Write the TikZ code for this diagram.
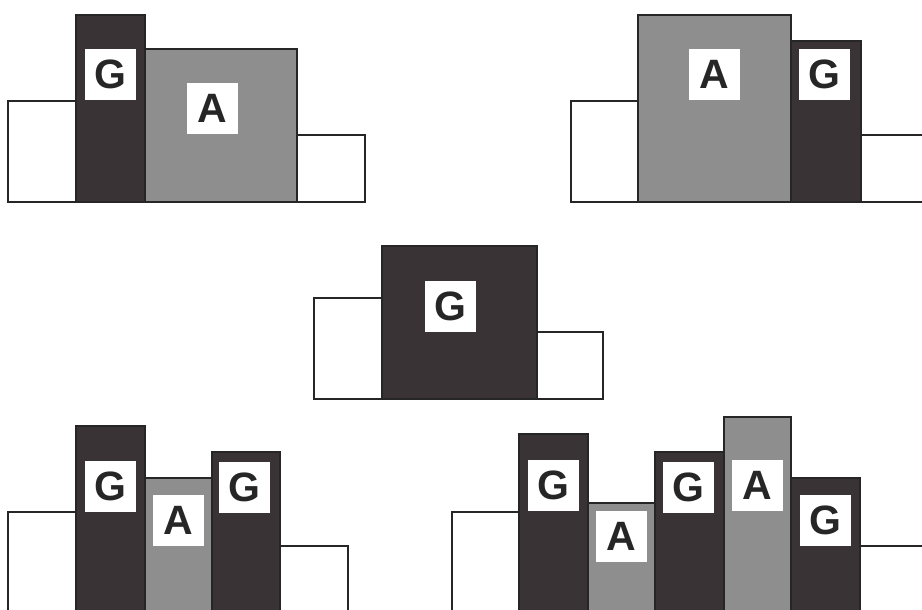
\documentclass[tikz,border=0pt]{standalone}
\usepackage{fontspec}
\setmainfont{Liberation Sans}

\definecolor{oscuro}{HTML}{3A3335}
\definecolor{medio}{HTML}{8E8E8E}

\tikzset{
  blanco/.style={draw=black!85, line width=0.55pt, fill=white},
  barraG/.style={draw=black!85, line width=0.55pt, fill=oscuro},
  barraA/.style={draw=black!85, line width=0.55pt, fill=medio},
  etiqueta/.style={fill=white, minimum size=25.5pt, inner sep=0pt,
    text=black!85, font=\fontsize{20.5}{20.5}\selectfont\bfseries}
}

\begin{document}
\begin{tikzpicture}[x=0.5pt, y=-0.5pt]
\useasboundingbox (0,0) rectangle (922,610);
\clip (0,0) rectangle (922,610);

% ================================================================
%  Panel 1 — G A (arriba, izquierda)
% ================================================================
\draw[blanco] (  8,101) rectangle ( 76,202);
\draw[blanco] (297,135) rectangle (365,202);
\draw[barraG] ( 76, 15) rectangle (145,202);
\draw[barraA] (145, 49) rectangle (297,202);
\node[etiqueta] (p1g) at (110.5, 74.5) {G};
\node[etiqueta] (p1a) at (212.0,108.5) {A};

% ================================================================
%  Panel 2 — A G (arriba, derecha)
% ================================================================
\draw[blanco] (571,101) rectangle (638,202);
\draw[blanco] (861,135) rectangle (960,202);
\draw[barraA] (638, 15) rectangle (791,202);
\draw[barraG] (791, 41) rectangle (861,202);
\node[etiqueta] (p2a) at (714.5, 74.5) {A};
\node[etiqueta] (p2g) at (824.5, 74.5) {G};

% ================================================================
%  Panel 3 — G (centro)
% ================================================================
\draw[blanco] (314,298) rectangle (382,399);
\draw[blanco] (537,332) rectangle (603,399);
\draw[barraG] (382,246) rectangle (537,399);
\node[etiqueta] (p3g) at (450.5,306) {G};

% ================================================================
%  Panel 4 — G A G (abajo, izquierda)
% ================================================================
\draw[blanco] (  8,512) rectangle ( 76,640);
\draw[blanco] (280,546) rectangle (348,640);
\draw[barraG] ( 76,426) rectangle (145,640);
\draw[barraA] (145,478) rectangle (212,640);
\draw[barraG] (212,452) rectangle (280,640);
\node[etiqueta] (p4g1) at (110.5,486.0) {G};
\node[etiqueta] (p4a)  at (178.0,520.0) {A};
\node[etiqueta] (p4g2) at (244.5,487.5) {G};

% ================================================================
%  Panel 5 — G A G A G (abajo, derecha)
% ================================================================
\draw[blanco] (452,512) rectangle (519,640);
\draw[blanco] (860,546) rectangle (960,640);
\draw[barraG] (519,434) rectangle (588,640);
\draw[barraA] (588,503) rectangle (655,640);
\draw[barraG] (655,452) rectangle (724,640);
\draw[barraA] (724,417) rectangle (791,640);
\draw[barraG] (791,478) rectangle (860,640);
\node[etiqueta] (p5g1) at (553.0,485.5) {G};
\node[etiqueta] (p5a1) at (621.5,536.5) {A};
\node[etiqueta] (p5g2) at (688.5,487.5) {G};
\node[etiqueta] (p5a2) at (757.5,485.5) {A};
\node[etiqueta] (p5g3) at (825.5,520.5) {G};

\end{tikzpicture}
\end{document}
